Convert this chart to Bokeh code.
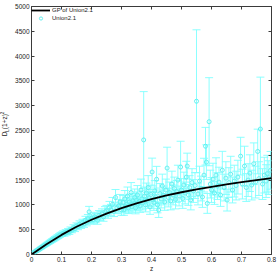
from bokeh.plotting import figure
from bokeh.layouts import row
from bokeh.models import (Range1d, FixedTicker, LinearAxis, Whisker, TeeHead,
                          ColumnDataSource, Legend, LegendItem, Div)
from bokeh.embed import file_html
from bokeh.resources import INLINE

# ---- data ----
x_ticks = [0, 0.1, 0.2, 0.3, 0.4, 0.5, 0.6, 0.7, 0.8]
x_tick_labels = ["0", "0.1", "0.2", "0.3", "0.4", "0.5", "0.6", "0.7", "0.8"]
y_ticks = [0, 500, 1000, 1500, 2000, 2500, 3000, 3500, 4000, 4500, 5000]

gp_z = [0, 0.05, 0.1, 0.15, 0.2, 0.25, 0.3, 0.35, 0.4, 0.45, 0.5, 0.55, 0.6,
        0.65, 0.7, 0.75, 0.8]
gp_v = [0, 205, 395, 560, 700, 825, 935, 1030, 1115, 1190, 1255, 1315, 1365,
        1415, 1460, 1500, 1540]

sn_z = [0.010, 0.012, 0.014, 0.015, 0.016, 0.017, 0.019, 0.021, 0.023, 0.024,
        0.026, 0.028, 0.030, 0.031, 0.033, 0.034, 0.036, 0.038, 0.040, 0.042,
        0.044, 0.046, 0.048, 0.050, 0.052, 0.054, 0.056, 0.058, 0.060, 0.062,
        0.064, 0.066, 0.068, 0.070, 0.072, 0.074, 0.076, 0.078, 0.080, 0.083,
        0.086, 0.089, 0.092, 0.095, 0.098,
        0.102, 0.106, 0.110, 0.114, 0.118, 0.122, 0.126, 0.130, 0.135, 0.140,
        0.145, 0.150, 0.155, 0.160, 0.165, 0.170, 0.175, 0.180, 0.184, 0.188,
        0.192, 0.196, 0.200, 0.205, 0.210, 0.215, 0.220, 0.225, 0.230, 0.235,
        0.240, 0.245, 0.250, 0.255, 0.260, 0.265, 0.270, 0.275, 0.280, 0.285,
        0.290, 0.295, 0.300,
        0.302, 0.305, 0.308, 0.311, 0.314, 0.317, 0.320, 0.323, 0.326, 0.329,
        0.332, 0.335, 0.338, 0.341, 0.344, 0.347, 0.350, 0.353, 0.356, 0.359,
        0.362, 0.365, 0.368, 0.371, 0.374, 0.377, 0.380, 0.383, 0.386, 0.389,
        0.392, 0.395, 0.398, 0.402, 0.405, 0.408, 0.411, 0.414, 0.417, 0.420,
        0.424, 0.428, 0.432, 0.436, 0.440, 0.444, 0.448, 0.452, 0.456, 0.460,
        0.464, 0.468, 0.472, 0.476, 0.480, 0.484, 0.488, 0.492, 0.497, 0.500,
        0.504, 0.508, 0.512, 0.516, 0.519, 0.523, 0.527, 0.531, 0.535, 0.540,
        0.545, 0.550, 0.555, 0.560, 0.565, 0.570, 0.575, 0.580, 0.583, 0.586,
        0.592, 0.596, 0.600, 0.605, 0.610, 0.615, 0.620, 0.625, 0.630, 0.636,
        0.642, 0.648, 0.652, 0.658, 0.664, 0.670, 0.676, 0.682, 0.688, 0.697,
        0.703, 0.710, 0.716, 0.722, 0.728, 0.734, 0.741, 0.747, 0.754, 0.758,
        0.763, 0.770, 0.776, 0.782, 0.786, 0.791, 0.797]
sn_v = [45, 55, 60, 66, 70, 72, 80, 88, 96, 104,
        108, 118, 122, 130, 138, 142, 150, 160, 164, 176,
        180, 192, 196, 210, 212, 226, 228, 240, 250, 252,
        266, 270, 282, 290, 292, 308, 310, 326, 330, 340,
        356, 362, 380, 390, 404,
        410, 430, 415, 450, 440, 470, 455, 500, 490, 540,
        520, 575, 560, 610, 590, 640, 615, 690, 650, 720,
        860, 690, 730, 700, 760, 740, 690, 790, 780, 820,
        760, 860, 880, 830, 950, 900, 1010, 870, 1150, 940,
        980, 1060, 900,
        980, 1050, 900, 1120, 960, 1010, 1180, 940, 1060, 1000,
        1250, 970, 1080, 1030, 1150, 940, 1100, 1200, 1020, 1070,
        980, 1300, 1120, 1050, 2310, 1180, 1000, 1240, 1090, 1350,
        1140, 960, 1210, 1663, 1100, 1050, 1280, 1160, 1517, 1000,
        897, 1230, 1120, 1380, 1190, 1060, 1300, 1743, 1150, 1250,
        1080, 1420, 1200, 1330, 1110, 1270, 1500, 1180, 1763, 1300,
        1130, 1400, 1240, 1560, 1783, 1200, 1350, 1100, 1450, 1280,
        1390, 3090, 1220, 1480, 1330, 1160, 1600, 2183, 1863, 1030,
        2677, 1420, 1300, 1520, 1240, 1600, 1380, 1460, 1200, 1700,
        1350, 1540, 1097, 1450, 1620, 1300, 1480, 1390, 1560, 1983,
        1420, 1783, 1350, 1500, 1640, 1400, 1830, 1460, 2077, 1530,
        2530, 1420, 1600, 1480, 1630, 1550, 1697]
sn_err = [8, 8, 9, 9, 10, 9, 10, 11, 11, 12,
          12, 13, 14, 14, 15, 15, 16, 17, 18, 18,
          19, 20, 21, 22, 22, 24, 24, 25, 26, 27,
          28, 28, 30, 30, 31, 32, 33, 34, 35, 36,
          38, 38, 40, 41, 42,
          45, 48, 45, 50, 48, 55, 50, 55, 52, 60,
          58, 62, 60, 68, 64, 70, 68, 80, 72, 85,
          110, 78, 85, 80, 90, 86, 80, 95, 92, 100,
          90, 105, 110, 100, 120, 110, 140, 105, 160, 115,
          125, 150, 110,
          120, 140, 110, 170, 120, 130, 180, 115, 140, 125,
          200, 120, 150, 135, 170, 120, 160, 190, 140, 150,
          130, 220, 160, 150, 974, 180, 140, 200, 160, 240,
          170, 150, 190, 280, 170, 160, 210, 180, 260, 160,
          150, 200, 180, 240, 190, 170, 220, 420, 190, 210,
          180, 260, 200, 230, 190, 220, 300, 200, 520, 230,
          200, 260, 220, 320, 260, 210, 240, 200, 280, 230,
          260, 1440, 220, 300, 250, 210, 340, 380, 350, 200,
          888, 280, 250, 320, 230, 350, 270, 300, 230, 380,
          270, 330, 220, 300, 360, 260, 320, 290, 340, 380,
          300, 400, 280, 330, 370, 300, 420, 320, 450, 340,
          1046, 310, 360, 330, 370, 340, 380]

CYAN_BAR = "#80ffff"
CYAN_MARK = "#66f0f0"
FONT = "Liberation Sans"
TXT = "#222222"

p = figure(width=265, height=274, output_backend="svg", toolbar_location=None,
           x_range=Range1d(0, 0.8), y_range=Range1d(0, 5000),
           min_border_left=19, min_border_right=6, min_border_top=6,
           min_border_bottom=18, margin=(0, 0, 0, 0),
           background_fill_color="white", border_fill_color="white")
p.grid.visible = False
p.outline_line_color = "#3a3a3a"
p.outline_line_width = 1

# axes
for ax in [p.xaxis[0], p.yaxis[0]]:
    ax.axis_line_color = None
    ax.major_tick_in = 3
    ax.major_tick_out = 0
    ax.minor_tick_line_color = None
    ax.major_tick_line_color = "#3a3a3a"
    ax.major_label_text_font = FONT
    ax.major_label_text_font_size = "6.5px"
    ax.major_label_text_color = TXT
p.xaxis[0].ticker = FixedTicker(ticks=x_ticks)
p.xaxis[0].major_label_overrides = {t: l for t, l in zip(x_ticks, x_tick_labels)}
p.xaxis[0].major_label_standoff = 2
p.xaxis[0].axis_label = "z"
p.xaxis[0].axis_label_standoff = 0
p.xaxis[0].axis_label_text_font = FONT
p.xaxis[0].axis_label_text_font_size = "6.5px"
p.xaxis[0].axis_label_text_font_style = "normal"
p.xaxis[0].axis_label_text_color = TXT
p.yaxis[0].ticker = FixedTicker(ticks=y_ticks)
p.yaxis[0].major_label_overrides = {t: str(t) for t in y_ticks}
p.yaxis[0].major_label_standoff = 2

for side, ticks in [("above", x_ticks), ("right", y_ticks)]:
    ax = LinearAxis(ticker=FixedTicker(ticks=ticks))
    ax.axis_line_color = None
    ax.major_tick_in = 3
    ax.major_tick_out = 0
    ax.minor_tick_line_color = None
    ax.major_tick_line_color = "#3a3a3a"
    ax.major_label_overrides = {t: "" for t in ticks}
    ax.major_label_text_font_size = "6.5px"
    ax.major_label_standoff = 0
    p.add_layout(ax, side)

# error bars
src = ColumnDataSource(dict(
    z=sn_z, v=sn_v,
    up=[v + e for v, e in zip(sn_v, sn_err)],
    lo=[max(v - e, 0) for v, e in zip(sn_v, sn_err)],
))
wh = Whisker(source=src, base="z", upper="up", lower="lo", dimension="height",
             line_color=CYAN_BAR, line_width=1, line_alpha=0.9,
             upper_head=TeeHead(size=8, line_color=CYAN_BAR, line_alpha=0.9),
             lower_head=TeeHead(size=8, line_color=CYAN_BAR, line_alpha=0.9))
p.add_layout(wh)

pts = p.scatter("z", "v", source=src, marker="circle", size=4,
                fill_color=None, line_color=CYAN_MARK, line_width=1)
gp = p.line(gp_z, gp_v, line_color="black", line_width=1.8)

legend = Legend(items=[LegendItem(label="GP of Union2.1", renderers=[gp]),
                       LegendItem(label="Union2.1", renderers=[pts])],
                location="top_left", margin=0, padding=2, spacing=0,
                glyph_width=19, glyph_height=8, label_height=8,
                label_standoff=2, label_text_font=FONT,
                label_text_font_size="6px", label_text_color=TXT,
                border_line_color=None, background_fill_alpha=0)
p.add_layout(legend, "center")

# y axis title with real subscript / superscript, rotated, left of the plot
ylabel_html = (
    '<div style="position:relative;width:12px;height:274px;">'
    '<span style="position:absolute;left:6px;top:124px;'
    'transform:translate(-50%,-50%) rotate(-90deg);white-space:nowrap;'
    "font-family:'Liberation Sans';font-size:6.5px;line-height:1;color:#222222;\">"
    'D<sub style="font-size:4.5px;">L</sub>(1+z)'
    '<sup style="font-size:4.5px;">2</sup></span></div>'
)
ylabel = Div(text=ylabel_html, width=12, height=274, margin=(0, 0, 0, 0))

layout = row(ylabel, p, spacing=0, margin=(0, 0, 0, 0))

open("out.html", "w").write(file_html(layout, INLINE))
